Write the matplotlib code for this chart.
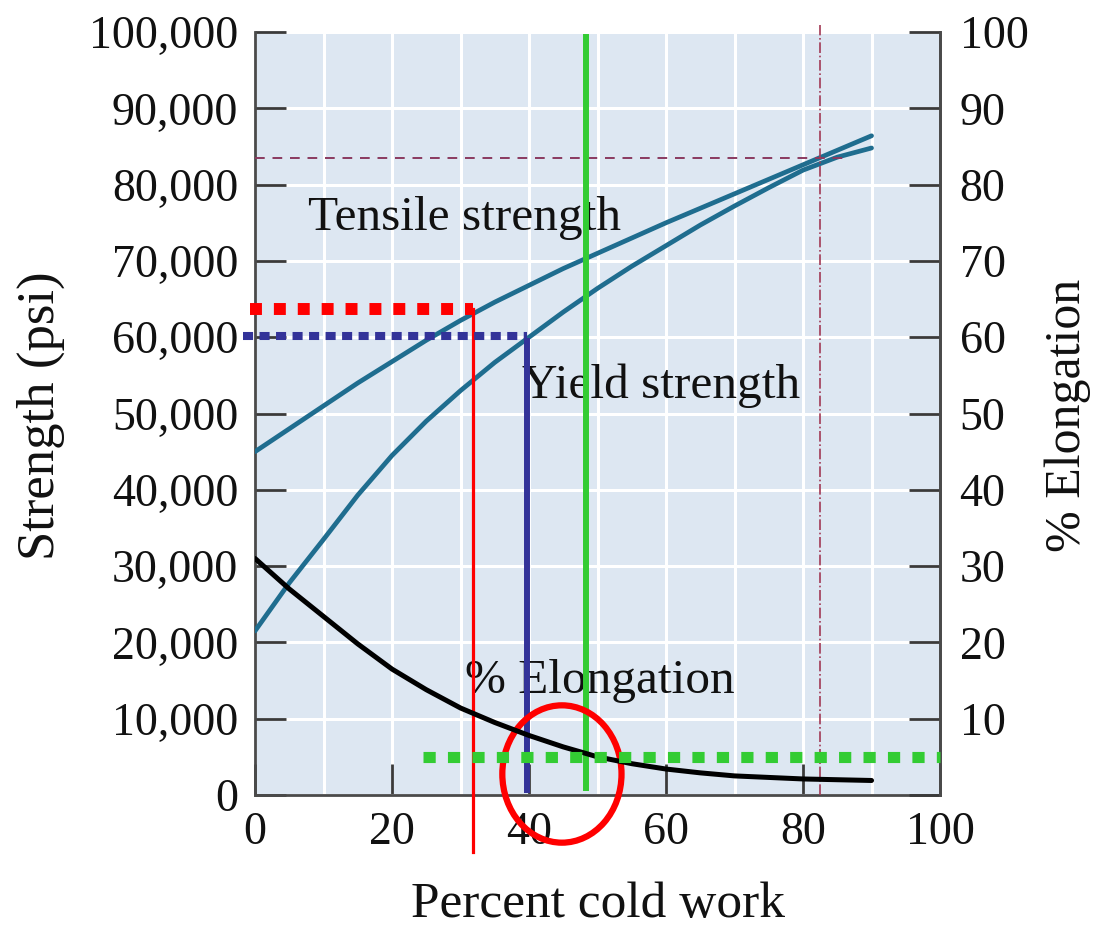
import matplotlib
matplotlib.use("Agg")
import matplotlib.pyplot as plt
from matplotlib.patches import Ellipse

# ---------------- data ----------------
cold_work = [0, 5, 10, 15, 20, 25, 30, 35, 40, 45, 50, 55, 60, 65, 70, 75, 80, 85, 90]
tensile_psi = [45000, 48000, 51000, 54000, 56800, 59600, 62200, 64600, 66800, 69000,
               71000, 73000, 75000, 76900, 78800, 80700, 82600, 84500, 86400]
yield_psi = [21500, 27800, 33500, 39300, 44500, 49000, 53000, 56700, 60000, 63300,
             66400, 69300, 72000, 74700, 77200, 79600, 81900, 83600, 84800]
elongation_pct = [31.0, 27.0, 23.4, 19.8, 16.5, 13.8, 11.4, 9.5, 7.8, 6.3,
                  5.0, 4.1, 3.4, 2.9, 2.5, 2.3, 2.1, 2.0, 1.9]

x_ticks = [0, 20, 40, 60, 80, 100]
left_ticks = list(range(0, 100001, 10000))
left_labels = ["{:,}".format(v) for v in left_ticks]
right_ticks = list(range(0, 101, 10))
right_labels = [""] + [str(v) for v in right_ticks[1:]]

# reference / annotation values
ref_x = 82.5            # dash-dot vertical
ref_y = 83500           # dashed horizontal
red_y, red_x = 63700, 31.8
blue_y, blue_x = 60150, 39.7
green_x, green_elong = 48.3, 5.0
circle_x, circle_y, circle_w, circle_h = 44.8, 2750, 17.4, 18000

# ---------------- style ----------------
SERIF = ["Liberation Serif", "DejaVu Serif"]
plt.rcParams["font.family"] = SERIF

fig = plt.figure(figsize=(10.95, 9.31), dpi=100)
ax = fig.add_axes([0.2329, 0.1461, 0.6256, 0.8195])
ax.set_facecolor("#dde7f2")
ax.set_xlim(0, 100)
ax.set_ylim(0, 100000)

ax.set_xticks(x_ticks)
ax.set_xticks(range(0, 101, 10), minor=True)
ax.set_yticks(left_ticks)
ax.set_yticklabels(left_labels)
ax.grid(True, which="both", color="white", lw=2.2)
ax.set_axisbelow(True)
ax.tick_params(axis="both", which="major", direction="in", length=22, width=2,
               color="#3a3a3a", labelsize=33, labelcolor="#111111")
ax.tick_params(axis="x", which="major", pad=12)
ax.tick_params(axis="y", which="major", pad=12)
ax.tick_params(axis="x", which="minor", length=0)
for s in ["left", "bottom", "right"]:
    ax.spines[s].set_color("#4a4a4a")
    ax.spines[s].set_linewidth(2)
ax.spines["top"].set_visible(False)

ax2 = ax.twinx()
ax2.set_ylim(0, 100)
ax2.set_yticks(right_ticks)
ax2.set_yticklabels(right_labels)
ax2.tick_params(axis="y", direction="in", length=22, width=2, color="#3a3a3a",
                labelsize=33, labelcolor="#111111", pad=14)
for s in ["left", "bottom", "top"]:
    ax2.spines[s].set_visible(False)
ax2.spines["right"].set_color("#4a4a4a")
ax2.spines["right"].set_linewidth(2)
ax2.patch.set_visible(False)

# curves
curve_col = "#1f6d8f"
ax.plot(cold_work, tensile_psi, color=curve_col, lw=3.4, solid_capstyle="round", zorder=3)
ax.plot(cold_work, yield_psi, color=curve_col, lw=3.4, solid_capstyle="round", zorder=3)
ax2.plot(cold_work, elongation_pct, color="black", lw=3.6, solid_capstyle="round", zorder=3)

# thin reference lines
ax.plot([0, 85.8], [ref_y, ref_y], color="#8a3a60", lw=1.4, ls=(0, (5, 4)), zorder=4)
ax.plot([ref_x, ref_x], [0, 100900], color="#a23a55", lw=1.2, ls="-.", zorder=4,
        clip_on=False)

# labels inside
ax.text(7.7, 74050, "Tensile strength", fontsize=35.5, color="#111111", va="baseline")
ax.text(39.0, 52000, "Yield strength", fontsize=35.5, color="#111111", va="baseline")
ax.text(30.7, 13400, "% Elongation", fontsize=35.5, color="#111111", va="baseline")

# axis labels
ax.set_xlabel("Percent cold work", fontsize=37, labelpad=20, color="#111111")
fig.text(0.037, 0.554, "Strength (psi)", rotation=90, fontsize=38, va="center",
         ha="center", color="#111111")
fig.text(0.975, 0.554, "% Elongation", rotation=90, fontsize=36, va="center",
         ha="center", color="#111111")

# ---------------- annotation overlays ----------------
ax.plot([-0.7, red_x], [red_y, red_y], color="#ff0000", lw=8.6,
        ls=(0, (1.0, 1.0)), solid_capstyle="butt", dash_capstyle="butt",
        clip_on=False, zorder=6)
ax.plot([red_x, red_x], [red_y, -7470], color="#ff0000", lw=2.3,
        clip_on=False, zorder=6)

ax.plot([-1.75, blue_x], [blue_y, blue_y], color="#333399", lw=5.8,
        ls=(0, (1.25, 0.8)), dash_capstyle="butt", clip_on=False, zorder=6)
ax.plot([blue_x, blue_x], [blue_y - 600, 650], color="#333399", lw=4.3,
        clip_on=False, zorder=6)

ax.plot([green_x, green_x], [99300, 900], color="#33cc33", lw=4.3,
        clip_on=False, zorder=6)
ax2.plot([24.5, 100], [green_elong, green_elong], color="#33cc33", lw=8,
         ls=(0, (1.1, 1.1)), dash_capstyle="butt", clip_on=False, zorder=6)

ax.add_patch(Ellipse((circle_x, circle_y), circle_w, circle_h, fill=False,
                     edgecolor="#ff0000", lw=4.5, clip_on=False, zorder=7))

fig.savefig("out.png", dpi=100, facecolor="white")
